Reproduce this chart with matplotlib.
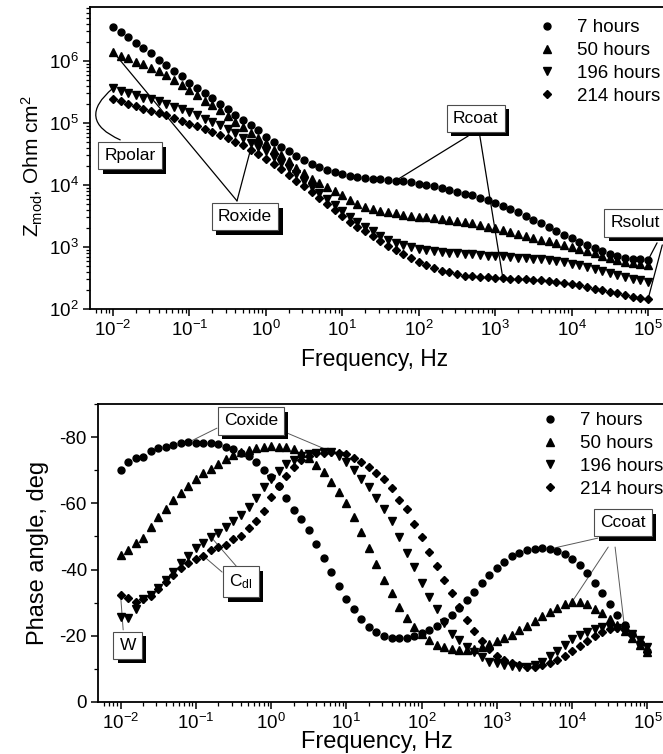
import matplotlib
matplotlib.use("Agg")
import matplotlib.pyplot as plt
import matplotlib.patheffects as pe
from matplotlib.lines import Line2D
import numpy as np

plt.rcParams['font.family'] = 'Liberation Sans'
plt.rcParams['font.size'] = 12
plt.rcParams['mathtext.fontset'] = 'custom'
plt.rcParams['mathtext.rm'] = 'Liberation Sans'
plt.rcParams['mathtext.it'] = 'Liberation Sans:italic'
plt.rcParams['mathtext.bf'] = 'Liberation Sans:bold'
plt.rcParams['mathtext.default'] = 'regular'
plt.rcParams['axes.unicode_minus'] = False

# measured frequencies (Hz), 10 points per decade
freq = [0.01, 0.0126, 0.0158, 0.02, 0.0251, 0.0316, 0.0398, 0.0501, 0.0631, 0.0794,
        0.1, 0.126, 0.158, 0.2, 0.251, 0.316, 0.398, 0.501, 0.631, 0.794,
        1.0, 1.26, 1.58, 2.0, 2.51, 3.16, 3.98, 5.01, 6.31, 7.94,
        10, 12.6, 15.8, 20, 25.1, 31.6, 39.8, 50.1, 63.1, 79.4,
        100, 126, 158, 200, 251, 316, 398, 501, 631, 794,
        1000, 1259, 1585, 1995, 2512, 3162, 3981, 5012, 6310, 7943,
        10000, 12589, 15849, 19953, 25119, 31623, 39811, 50119, 63096, 79433,
        100000]
decades = [1e-2, 1e-1, 1e0, 1e1, 1e2, 1e3, 1e4, 1e5]

labels = ['7 hours', '50 hours', '196 hours', '214 hours']
markers = ['o', '^', 'v', 'D']
msizes = [5.0, 5.5, 5.5, 4.3]

# log10 |Z| (Ohm cm2)
logz_7h = [6.55, 6.46, 6.39, 6.29, 6.21, 6.13, 6.02, 5.94, 5.84, 5.75,
           5.65, 5.56, 5.48, 5.40, 5.31, 5.23, 5.13, 5.05, 4.97, 4.88,
           4.78, 4.69, 4.62, 4.55, 4.47, 4.40, 4.34, 4.29, 4.24, 4.21,
           4.18, 4.15, 4.13, 4.11, 4.10, 4.09, 4.08, 4.07, 4.06, 4.04,
           4.02, 4.00, 3.98, 3.95, 3.92, 3.89, 3.86, 3.83, 3.79, 3.75,
           3.71, 3.66, 3.61, 3.56, 3.50, 3.44, 3.38, 3.32, 3.26, 3.20,
           3.14, 3.08, 3.03, 2.98, 2.93, 2.89, 2.86, 2.83, 2.81, 2.80,
           2.79]
logz_50h = [6.15, 6.08, 6.04, 5.99, 5.95, 5.88, 5.83, 5.77, 5.69, 5.61,
            5.53, 5.45, 5.36, 5.29, 5.21, 5.11, 5.02, 4.94, 4.84, 4.76,
            4.67, 4.57, 4.48, 4.38, 4.28, 4.19, 4.10, 4.03, 3.96, 3.90,
            3.83, 3.76, 3.70, 3.65, 3.61, 3.58, 3.56, 3.54, 3.52, 3.50,
            3.49, 3.48, 3.46, 3.45, 3.44, 3.42, 3.40, 3.38, 3.35, 3.32,
            3.30, 3.27, 3.24, 3.21, 3.18, 3.15, 3.12, 3.09, 3.06, 3.03,
            3.00, 2.97, 2.93, 2.90, 2.86, 2.82, 2.79, 2.76, 2.74, 2.72,
            2.71]
logz_196h = [5.56, 5.52, 5.49, 5.45, 5.41, 5.38, 5.35, 5.31, 5.26, 5.23,
             5.18, 5.12, 5.07, 5.02, 4.97, 4.90, 4.83, 4.76, 4.68, 4.61,
             4.54, 4.45, 4.36, 4.27, 4.17, 4.07, 3.97, 3.87, 3.77, 3.68,
             3.58, 3.49, 3.41, 3.33, 3.25, 3.18, 3.12, 3.07, 3.03, 3.00,
             2.97, 2.95, 2.93, 2.92, 2.91, 2.90, 2.89, 2.88, 2.87, 2.86,
             2.86, 2.85, 2.84, 2.83, 2.82, 2.81, 2.80, 2.79, 2.77, 2.75,
             2.73, 2.71, 2.68, 2.65, 2.62, 2.58, 2.55, 2.52, 2.49, 2.46,
             2.44]
logz_214h = [5.38, 5.35, 5.31, 5.27, 5.23, 5.19, 5.16, 5.12, 5.08, 5.03,
             4.99, 4.95, 4.90, 4.86, 4.81, 4.76, 4.70, 4.64, 4.57, 4.50,
             4.42, 4.33, 4.25, 4.16, 4.07, 3.98, 3.88, 3.79, 3.69, 3.60,
             3.50, 3.41, 3.33, 3.25, 3.17, 3.09, 3.02, 2.95, 2.88, 2.82,
             2.76, 2.71, 2.66, 2.62, 2.59, 2.56, 2.54, 2.53, 2.52, 2.51,
             2.50, 2.50, 2.49, 2.49, 2.48, 2.47, 2.46, 2.45, 2.43, 2.42,
             2.40, 2.38, 2.35, 2.33, 2.30, 2.27, 2.25, 2.22, 2.20, 2.18,
             2.16]

# phase angle (deg)
phase_7h = [-70.2, -72.5, -73.6, -73.9, -75.9, -76.6, -77.1, -77.6, -78.2, -78.4,
            -78.3, -78.1, -78.1, -77.8, -77.1, -76.3, -75.1, -74.3, -72.5, -70.2,
            -68.0, -65.2, -61.6, -58.0, -55.2, -51.9, -47.7, -43.6, -39.3, -35.0,
            -31.0, -28.0, -25.2, -22.8, -21.0, -20.0, -19.4, -19.2, -19.3, -19.8,
            -20.7, -21.8, -23.0, -24.6, -26.2, -28.3, -30.8, -33.3, -36.0, -38.3,
            -40.4, -42.4, -44.0, -45.1, -45.9, -46.3, -46.4, -46.2, -45.5, -44.6,
            -43.1, -41.4, -39.0, -36.0, -32.8, -29.6, -26.2, -23.2, -20.4, -17.8,
            -15.5]
phase_50h = [-44.4, -45.9, -47.9, -49.4, -52.9, -55.9, -58.4, -61.0, -63.2, -65.2,
             -67.5, -69.2, -70.5, -72.0, -73.3, -74.6, -75.6, -76.1, -76.6, -77.1,
             -77.3, -77.1, -77.1, -76.3, -75.3, -73.6, -71.5, -69.5, -66.5, -63.5,
             -60.0, -55.9, -51.4, -46.4, -41.6, -36.8, -32.8, -28.7, -25.5, -22.7,
             -20.5, -18.7, -17.2, -16.5, -15.9, -15.7, -15.8, -16.0, -16.6, -17.4,
             -18.3, -19.3, -20.3, -21.6, -23.0, -24.6, -26.0, -27.3, -28.5, -29.6,
             -30.3, -30.2, -29.5, -28.2, -26.9, -25.2, -23.3, -21.4, -19.3, -17.3,
             -15.2]
phase_196h = [-25.8, -25.4, -28.0, -31.0, -32.3, -34.3, -36.8, -39.3, -41.9, -44.1,
              -46.4, -47.9, -49.9, -51.1, -52.9, -54.7, -56.5, -58.8, -61.5, -64.8,
              -67.5, -69.8, -72.0, -73.1, -74.3, -74.9, -75.3, -75.6, -75.6, -74.3,
              -72.5, -70.0, -67.5, -64.8, -61.5, -58.2, -54.7, -49.9, -45.1, -40.9,
              -36.0, -31.8, -28.0, -24.0, -20.5, -18.7, -16.7, -15.2, -13.7, -12.2,
              -11.7, -11.2, -10.8, -10.7, -10.7, -11.2, -12.2, -13.9, -15.5, -17.2,
              -18.9, -20.2, -21.2, -22.0, -22.7, -22.8, -22.5, -21.7, -20.4, -18.8,
              -16.5]
phase_214h = [-32.3, -31.3, -30.3, -31.2, -32.0, -34.0, -36.3, -38.3, -40.4, -42.1,
              -43.1, -44.1, -45.9, -46.9, -47.4, -49.1, -50.1, -52.4, -54.7, -57.7,
              -62.0, -65.2, -68.2, -71.0, -73.1, -74.3, -75.1, -75.3, -75.6, -75.1,
              -74.8, -73.6, -72.5, -71.0, -69.2, -67.2, -64.5, -61.0, -58.2, -53.7,
              -49.7, -45.4, -41.1, -36.8, -32.8, -28.8, -24.8, -21.5, -18.5, -15.9,
              -13.9, -12.7, -11.7, -11.2, -10.7, -10.7, -11.2, -11.7, -12.7, -13.9,
              -15.5, -16.9, -18.5, -19.9, -21.2, -22.0, -22.2, -21.7, -20.2, -18.0,
              -15.0]

logz = [logz_7h, logz_50h, logz_196h, logz_214h]
phase = [phase_7h, phase_50h, phase_196h, phase_214h]
f = np.array(freq)

fig = plt.figure(figsize=(6.63, 7.54), dpi=100)
W, H = 663.0, 754.0
ax1 = fig.add_axes([90 / W, (H - 309) / H, 581 / W, 302 / H])
ax2 = fig.add_axes([98 / W, (H - 702) / H, 572 / W, 298 / H])

for z, m, ms in zip(logz, markers, msizes):
    ax1.plot(f, 10 ** np.array(z), ls='none', marker=m, ms=ms, color='k',
             mec='k', zorder=3)
for p, m, ms in zip(phase, markers, msizes):
    ax2.plot(f, p, ls='none', marker=m, ms=ms, color='k', mec='k', zorder=3)

for ax in (ax1, ax2):
    ax.set_xscale('log')
    ax.set_xlim(10 ** -2.3, 10 ** 5.3)
    ax.set_xticks(decades)
    for s in ax.spines.values():
        s.set_linewidth(1.3)
    ax.tick_params(which='major', direction='out', length=5, width=1.1,
                   labelsize=13.5, pad=3)
    ax.tick_params(which='minor', direction='out', length=3, width=0.9)

ax1.set_yscale('log')
ax1.set_ylim(1e2, 7.4e6)
ax1.set_yticks([1e2, 1e3, 1e4, 1e5, 1e6])
ax1.set_xlabel('Frequency, Hz', fontsize=16.5)
ax1.set_ylabel(r'Z$_{mod}$, Ohm cm$^2$', fontsize=15)
ax1.xaxis.set_label_coords(0.49, -0.128)
ax1.yaxis.set_label_coords(-0.078, 0.473)

ax2.set_ylim(0, -90)
ax2.set_yticks([0, -20, -40, -60, -80])
ax2.set_yticks([-10, -30, -50, -70, -90], minor=True)
ax2.set_xlabel('Frequency, Hz', fontsize=17)
ax2.set_ylabel('Phase angle, deg', fontsize=17)
ax2.xaxis.set_label_coords(0.487, -0.098)
ax2.yaxis.set_label_coords(-0.085, 0.5)

handles = [Line2D([], [], ls='none', marker=m, ms=ms, color='k')
           for m, ms in zip(markers, msizes)]
leg_kw = dict(loc='upper left', frameon=False, bbox_transform=fig.transFigure,
              borderpad=0, borderaxespad=0, handlelength=1.0, handletextpad=1.1,
              labelspacing=0.31, fontsize=13.5)
ax1.legend(handles, labels, bbox_to_anchor=(538 / W, (H - 19) / H), **leg_kw)
ax2.legend(handles, labels, bbox_to_anchor=(541 / W, (H - 412) / H), **leg_kw)


def box(ax, x, y, s):
    t = ax.text(x, y, s, transform=ax.transAxes, ha='center', va='center',
                fontsize=12.5, zorder=5,
                bbox=dict(boxstyle='square,pad=0.35', fc='white', ec='0.3', lw=0.8))
    t.get_bbox_patch().set_path_effects(
        [pe.SimplePatchShadow(offset=(3.2, -3.2), shadow_rgbFace='k', alpha=1.0),
         pe.Normal()])
    return t


def lead(ax, start, target, color='k', lw=0.9, rad=0.0):
    ax.annotate('', xy=target, xycoords='data', xytext=start,
                textcoords='axes fraction', zorder=2,
                arrowprops=dict(arrowstyle='-', color=color, lw=lw,
                                shrinkA=0, shrinkB=0,
                                connectionstyle='arc3,rad=%g' % rad))


# impedance modulus annotations
box(ax1, 0.069, 0.507, 'Rpolar')
lead(ax1, (0.052, 0.560), (freq[0], 10 ** logz_196h[0]), rad=-0.8)
box(ax1, 0.267, 0.305, 'Roxide')
lead(ax1, (0.253, 0.358), (freq[0], 10 ** logz_50h[0]))
lead(ax1, (0.253, 0.358), (freq[18], 10 ** logz_214h[18]))
box(ax1, 0.664, 0.632, 'Rcoat')
lead(ax1, (0.651, 0.573), (freq[37], 10 ** logz_7h[37]))
lead(ax1, (0.671, 0.573), (freq[51], 10 ** logz_214h[51]))
box(ax1, 0.938, 0.285, 'Rsolut')
lead(ax1, (0.976, 0.219), (freq[70], 10 ** logz_7h[70]))
lead(ax1, (0.985, 0.212), (freq[70], 10 ** logz_214h[70]))

# phase angle annotations
g = '0.35'
box(ax2, 0.267, 0.943, 'Coxide')
lead(ax2, (0.208, 0.919), (freq[9], phase_7h[9]), color=g, lw=0.7)
lead(ax2, (0.330, 0.903), (freq[28], phase_214h[28]), color=g, lw=0.7)
box(ax2, 0.250, 0.403, r'C$_{dl}$')
lead(ax2, (0.243, 0.453), (freq[12], phase_196h[12]), color=g, lw=0.7)
lead(ax2, (0.217, 0.436), (freq[11], phase_214h[11]), color=g, lw=0.7)
box(ax2, 0.052, 0.191, 'W')
lead(ax2, (0.044, 0.242), (freq[0], phase_214h[0]), color=g, lw=0.7)
box(ax2, 0.918, 0.601, 'Ccoat')
lead(ax2, (0.874, 0.550), (freq[57], phase_7h[57]), color=g, lw=0.7)
lead(ax2, (0.892, 0.520), (freq[60], phase_50h[60]), color=g, lw=0.7)
lead(ax2, (0.904, 0.520), (freq[67], phase_214h[67]), color=g, lw=0.7)

fig.savefig('out.png', dpi=100)
